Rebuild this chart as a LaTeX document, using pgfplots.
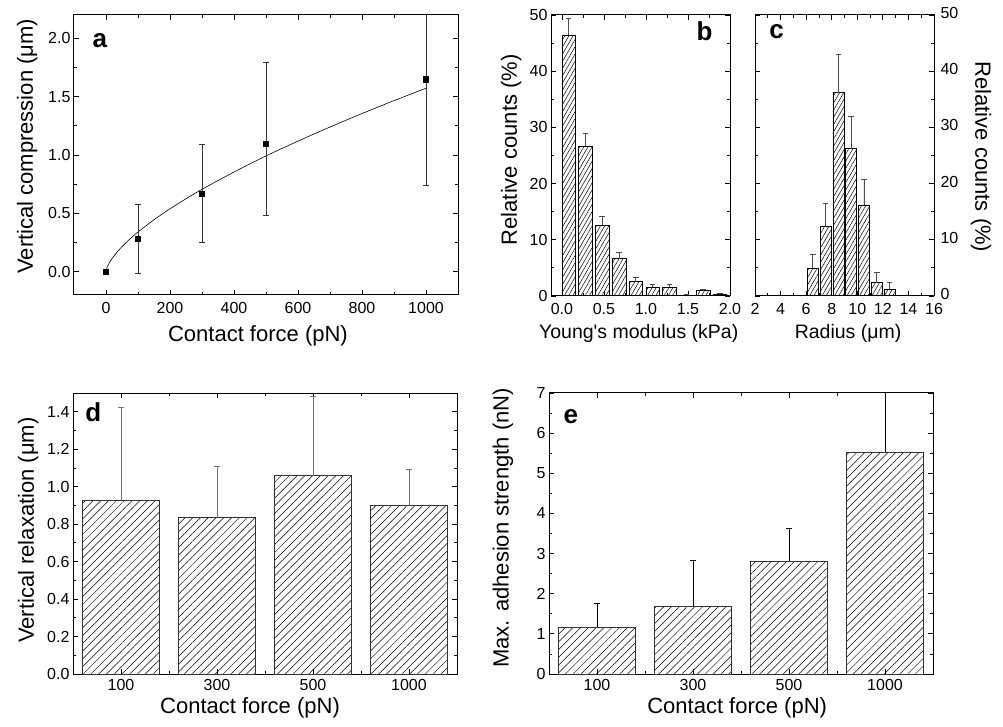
\documentclass[border=0pt]{standalone}
\usepackage{fontspec}
\setmainfont{Liberation Sans}
\usepackage{pgfplots}
\pgfplotsset{compat=1.18}
\usetikzlibrary{patterns.meta}

\tikzset{lab/.style={font=\fontsize{22}{26}\selectfont},
         labs/.style={font=\fontsize{19.5}{23}\selectfont}}
\pgfplotsset{
  myax/.style={
    scale only axis,
    anchor=south west,
    axis line style={line width=1pt},
    tick style={line width=0.8pt, black},
    major tick length=5pt,
    minor tick length=3pt,
    tick align=inside,
    /pgf/number format/assume math mode=true,
    /pgf/number format/1000 sep={},
    tick label style={font=\fontsize{16}{19}\selectfont, black},
    xticklabel style={yshift=-4pt},
    clip=true,
  },
  barerr/.style={error bars/.cd, y dir=plus, y explicit,
    error bar style={line width=0.8pt, #1},
    error mark options={rotate=90, mark size=2.8pt, line width=0.8pt, #1}},
}
\newcommand{\plabel}{\fontsize{26}{30}\selectfont\bfseries}

\begin{document}
\begin{tikzpicture}
\path[use as bounding box] (0pt,0pt) rectangle (1003pt,726pt);

% ---------------- panel a
\begin{axis}[myax, at={(74pt,431pt)}, width=384pt, height=280pt,
  xmin=-100, xmax=1100, ymin=-0.2, ymax=2.2,
  xtick={0,200,400,600,800,1000}, minor x tick num=1,
  ytick={0,0.5,1,1.5,2}, minor y tick num=1,
  yticklabel style={/pgf/number format/.cd, fixed, fixed zerofill, precision=1},
  xlabel={Contact force (pN)}, ylabel={Vertical compression (μm)},
  every axis x label/.style={at={(axis description cs:0.479,-0.165)}, anchor=base, lab},
  every axis y label/.style={at={(axis description cs:-0.122,0.531)}, rotate=90, anchor=center, lab},
]
\addplot[black, line width=0.6pt, no marks, smooth] coordinates {
(0,0) (2,0.0252) (5,0.0464) (10,0.0735) (20,0.1166) (40,0.1848) (60,0.242)
(80,0.293) (100,0.340) (150,0.445) (200,0.539) (250,0.625) (300,0.706)
(400,0.854) (500,0.992) (600,1.119) (700,1.240) (800,1.355) (900,1.466) (1000,1.572)};
\addplot[only marks, mark=square*, mark size=2.6pt, black,
  error bars/.cd, y dir=both, y explicit,
  error bar style={line width=0.8pt, black!80},
  error mark options={rotate=90, mark size=3pt, line width=0.8pt, black!80}]
  coordinates {
  (0,0) +- (0,0)
  (100,0.28) += (0,0.293) -= (0,0.294)
  (300,0.67) += (0,0.423) -= (0,0.422)
  (500,1.096) += (0,0.696) -= (0,0.617)
  (1000,1.649) += (0,0.907) -= (0,0.907)
  };
\node[anchor=base west, font=\plabel] at (rel axis cs:0.039,0.885) {a};
\end{axis}

% ---------------- panel b
\begin{axis}[myax, at={(551pt,430pt)}, width=179pt, height=281pt,
  xmin=-0.13, xmax=2.0, ymin=0, ymax=50,
  xtick={0,0.5,1,1.5,2}, minor x tick num=1,
  ytick={0,10,20,30,40,50}, minor y tick num=1,
  xticklabel style={/pgf/number format/.cd, fixed, fixed zerofill, precision=1},
  xlabel={Young\textquotesingle s modulus (kPa)}, ylabel={Relative counts (\%)},
  every axis x label/.style={at={(axis description cs:0.49,-0.153)}, anchor=base, labs},
  every axis y label/.style={at={(axis description cs:-0.223,0.52)}, rotate=90, anchor=center, lab},
]
\addplot[ybar, bar width=0.16, draw=black, line width=0.6pt,
  pattern={Lines[angle=60,distance=3.6pt,line width=0.5pt]}, pattern color=black,
  barerr=black!70] coordinates {
  (0.08,46.4) +- (0,3.0)
  (0.28,26.7) +- (0,2.3)
  (0.48,12.6) +- (0,1.5)
  (0.68,6.65) +- (0,1.05)
  (0.88,2.55) +- (0,0.72)
  (1.08,1.54) +- (0,0.54)
  (1.28,1.54) +- (0,0.54)
  (1.48,0.15) +- (0,0.2)
  (1.68,0.95) +- (0,0.3)
  (1.88,0.3) +- (0,0.25)
  };
\node[anchor=base east, font=\plabel] at (rel axis cs:0.922,0.911) {b};
\end{axis}

% ---------------- panel c
\begin{axis}[myax, at={(755pt,430pt)}, width=179pt, height=281pt,
  xmin=2, xmax=16, ymin=0, ymax=50,
  xtick={2,4,6,8,10,12,14,16}, minor x tick num=1,
  ytick={0,10,20,30,40,50}, minor y tick num=1,
  yticklabel pos=right,
  yticklabel style={xshift=3pt, yshift=2pt},
  xlabel={Radius (μm)}, ylabel={Relative counts (\%)},
  every axis x label/.style={at={(axis description cs:0.52,-0.153)}, anchor=base, labs},
  every axis y label/.style={at={(axis description cs:1.263,0.495)}, rotate=-90, anchor=center, lab},
]
\addplot[ybar, bar width=0.85, draw=black, line width=0.6pt,
  pattern={Lines[angle=60,distance=3.6pt,line width=0.5pt]}, pattern color=black,
  barerr=black!70] coordinates {
  (6.52,5.0) +- (0,2.36)
  (7.52,12.4) +- (0,4.05)
  (8.52,36.2) +- (0,6.85)
  (9.52,26.2) +- (0,5.8)
  (10.52,16.2) +- (0,4.5)
  (11.52,2.4) +- (0,1.76)
  (12.52,1.2) +- (0,1.2)
  };
\node[anchor=base west, font=\plabel] at (rel axis cs:0.061,0.918) {c};
\end{axis}

% ---------------- panel d
\begin{axis}[myax, at={(73pt,52pt)}, width=384pt, height=281pt,
  xmin=-0.5, xmax=3.5, ymin=0, ymax=1.5,
  xtick={0,1,2,3}, xticklabels={100,300,500,1000}, minor x tick num=1,
  xticklabel style={yshift=2pt},
  ytick={0,0.2,0.4,0.6,0.8,1.0,1.2,1.4}, minor y tick num=1,
  yticklabel style={/pgf/number format/.cd, fixed, fixed zerofill, precision=1},
  xlabel={Contact force (pN)}, ylabel={Vertical relaxation (μm)},
  every axis x label/.style={at={(axis description cs:0.461,-0.142)}, anchor=base, lab},
  every axis y label/.style={at={(axis description cs:-0.117,0.512)}, rotate=90, anchor=center, lab},
]
\addplot[ybar, bar width=0.8, draw=black!80, line width=0.8pt,
  pattern={Lines[angle=45,distance=5.5pt,line width=0.5pt]}, pattern color=black,
  barerr=black!55] coordinates {
  (0,0.927) +- (0,0.494)
  (1,0.838) +- (0,0.268)
  (2,1.059) +- (0,0.421)
  (3,0.900) +- (0,0.190)
  };
\node[anchor=base west, font=\plabel] at (rel axis cs:0.023,0.897) {d};
\end{axis}

% ---------------- panel e
\begin{axis}[myax, at={(549pt,52pt)}, width=384pt, height=281pt,
  xmin=-0.5, xmax=3.5, ymin=0, ymax=7,
  xtick={0,1,2,3}, xticklabels={100,300,500,1000}, minor x tick num=1,
  xticklabel style={yshift=2pt},
  ytick={0,1,2,3,4,5,6,7}, minor y tick num=1,
  xlabel={Contact force (pN)}, ylabel={Max. adhesion strength (nN)},
  every axis x label/.style={at={(axis description cs:0.49,-0.142)}, anchor=base, lab},
  every axis y label/.style={at={(axis description cs:-0.12,0.52)}, rotate=90, anchor=center, lab},
]
\addplot[ybar, bar width=0.8, draw=black!80, line width=0.8pt,
  pattern={Lines[angle=45,distance=5.5pt,line width=0.5pt]}, pattern color=black,
  barerr=black] coordinates {
  (0,1.164) +- (0,0.60)
  (1,1.69) +- (0,1.13)
  (2,2.81) +- (0,0.82)
  (3,5.53) +- (0,1.6)
  };
\node[anchor=base west, font=\plabel] at (rel axis cs:0.029,0.893) {e};
\end{axis}
\end{tikzpicture}
\end{document}
